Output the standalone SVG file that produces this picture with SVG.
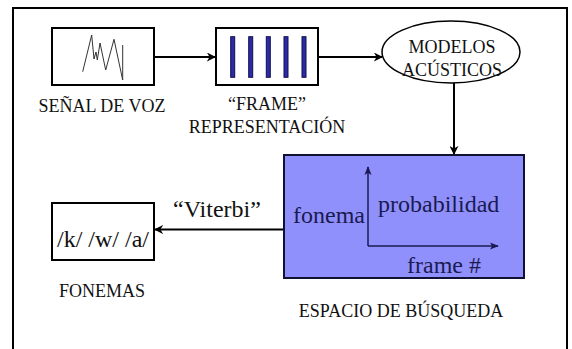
<svg xmlns="http://www.w3.org/2000/svg" width="572" height="349" viewBox="0 0 572 349">
  <style>
    text { font-family: "Liberation Serif", "Times New Roman", serif; }
    .box { fill: #ffffff; stroke: #000000; stroke-width: 2; }
    .lbl { font-size: 18px; fill: #111111; text-anchor: middle; }
    .big { font-size: 24px; fill: #111111; text-anchor: middle; }
    .inner { font-size: 24px; fill: #1a1a50; }
    .bar { fill: #2b2ba8; stroke: #10104a; stroke-width: 1; }
    .conn { stroke: #000000; stroke-width: 2; fill: none; marker-end: url(#arrow); }
    .axis { stroke: #1a1a50; stroke-width: 1.5; fill: none; marker-end: url(#axisArrow); }
  </style>
  <defs>
    <marker id="arrow" viewBox="0 0 10 10" refX="9" refY="5" markerWidth="4.5" markerHeight="4.5" orient="auto">
      <path d="M0,0 L10,5 L0,10 L3,5 z" fill="#000000"/>
    </marker>
    <marker id="axisArrow" viewBox="0 0 10 10" refX="9" refY="5" markerWidth="6" markerHeight="6" orient="auto">
      <path d="M0,1 L10,5 L0,9 L2.5,5 z" fill="#1a1a50"/>
    </marker>
  </defs>

  <rect width="572" height="349" fill="#ffffff"/>
  <!-- outer frame, bottom edge runs past the canvas -->
  <rect x="13" y="8" width="554" height="350" fill="none" stroke="#000000" stroke-width="2"/>

  <g id="connectors">
    <line class="conn" x1="154" y1="57" x2="215" y2="57"/>
    <line class="conn" x1="318" y1="57" x2="382" y2="57"/>
    <line class="conn" x1="454" y1="83" x2="454" y2="154"/>
    <line class="conn" x1="283" y1="229.5" x2="155" y2="229.5"/>
    <text class="big" x="217" y="217">“Viterbi”</text>
  </g>

  <g id="senal">
    <rect class="box" x="52" y="28" width="102" height="57"/>
    <polyline points="82.7,71.7 91.7,35 94,59 96,52 97.3,60 100,43 105.7,70 114,39.3 122.7,80 122.7,45" fill="none" stroke="#333333" stroke-width="1"/>
    <text class="lbl" x="102" y="112">SEÑAL DE VOZ</text>
  </g>

  <g id="frame">
    <rect class="box" x="216" y="28" width="102" height="57"/>
    <rect class="bar" x="230.7" y="36.7" width="4" height="40.6"/>
    <rect class="bar" x="248.7" y="36.7" width="4" height="40.6"/>
    <rect class="bar" x="266.3" y="36.7" width="4" height="40.6"/>
    <rect class="bar" x="284" y="36.7" width="4" height="40.6"/>
    <rect class="bar" x="302" y="36.7" width="4" height="40.6"/>
    <text class="lbl" x="267" y="110">“FRAME”</text>
    <text class="lbl" x="267" y="133">REPRESENTACIÓN</text>
  </g>

  <g id="modelos">
    <ellipse cx="451" cy="52" rx="69" ry="31" fill="#ffffff" stroke="#000000" stroke-width="1.5"/>
    <text class="lbl" x="452" y="53">MODELOS</text>
    <text class="lbl" x="452" y="76">ACÚSTICOS</text>
  </g>

  <g id="espacio">
    <rect x="284" y="155" width="240" height="123" fill="#9090fc" stroke="#111133" stroke-width="2"/>
    <line class="axis" x1="368" y1="246" x2="368" y2="167"/>
    <line class="axis" x1="368" y1="246" x2="498" y2="246"/>
    <text class="inner" x="293" y="223">fonema</text>
    <text class="inner" x="378" y="212">probabilidad</text>
    <text class="inner" x="407" y="273">frame #</text>
    <text class="lbl" x="401" y="317">ESPACIO DE BÚSQUEDA</text>
  </g>

  <g id="fonemas">
    <rect class="box" x="52" y="203" width="102" height="57"/>
    <text class="big" x="103" y="247">/k/ /w/ /a/</text>
    <text class="lbl" x="102" y="297">FONEMAS</text>
  </g>
</svg>
